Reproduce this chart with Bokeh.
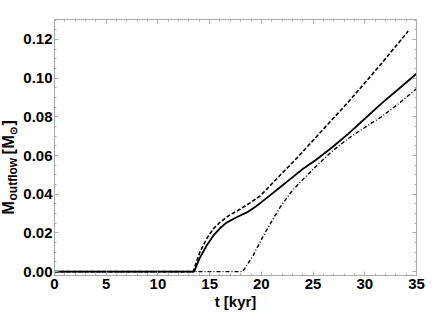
from bokeh.plotting import figure
from bokeh.models import LinearAxis, Range1d, Label, FixedTicker
from bokeh.layouts import row
from bokeh.embed import file_html
from bokeh.resources import INLINE
import math

# ---- data ----
t_solid = [0, 13.5, 14.0, 14.7, 15.35, 16.0, 16.6, 17.6, 18.6, 19.5, 20.5, 21.9,
           23.0, 24.0, 25.2, 26.8, 28.4, 30.0, 31.6, 33.3, 35.0]
m_solid = [0, 0, 0.0066, 0.0134, 0.0186, 0.0224, 0.0252, 0.0281, 0.0306, 0.0338,
           0.0380, 0.0440, 0.0487, 0.0530, 0.0574, 0.0640, 0.0712, 0.0790, 0.0868,
           0.0945, 0.1023]

t_dash = [0, 13.4, 14.05, 14.7, 15.35, 16.0, 16.95, 17.9, 18.9, 19.85, 20.5, 21.9,
          23.4, 25.2, 28.4, 31.45, 34.2]
m_dash = [0, 0, 0.0100, 0.0169, 0.0221, 0.0255, 0.0293, 0.0321, 0.0355, 0.0390,
          0.0425, 0.0503, 0.0585, 0.0690, 0.0876, 0.1065, 0.1243]

t_dd = [0, 18.2, 19.2, 20.2, 21.0, 21.9, 23.0, 23.9, 25.2, 26.8, 28.4, 30.0,
        31.6, 33.2, 35.0]
m_dd = [0, 0, 0.0083, 0.0186, 0.0260, 0.0340, 0.0420, 0.0470, 0.0540, 0.0620,
        0.0688, 0.0745, 0.0800, 0.0865, 0.0945]

x_ticks = [0, 5, 10, 15, 20, 25, 30, 35]
y_ticks = [0.0, 0.02, 0.04, 0.06, 0.08, 0.10, 0.12]
y_tick_labels = {0.0: "0.00", 0.02: "0.02", 0.04: "0.04", 0.06: "0.06",
                 0.08: "0.08", 0.10: "0.10", 0.12: "0.12"}
x_minor = [float(i) for i in range(0, 36)]
y_minor = [i * 0.005 for i in range(0, 27)]

FONT = "Liberation Sans"
AXC = "#aaaaaa"
Y0, Y1 = -0.002, 0.1303
H = 314
LW = 20  # width of the strip that carries the y-axis title

# ---------------- main plot ----------------
p = figure(frame_width=362, frame_height=256, width=436 - LW, height=H,
           x_range=Range1d(0, 35), y_range=Range1d(Y0, Y1),
           output_backend="svg", toolbar_location=None,
           min_border_left=53 - LW, min_border_top=19,
           min_border_right=436 - LW - (53 - LW) - 362, min_border_bottom=39)
p.background_fill_color = "white"
p.border_fill_color = "white"
p.outline_line_color = None
p.xgrid.visible = False
p.ygrid.visible = False

def style(ax, labels=True):
    ax.axis_line_color = AXC
    ax.axis_line_width = 1
    ax.major_tick_line_color = AXC
    ax.minor_tick_line_color = AXC
    ax.major_tick_in = 4
    ax.major_tick_out = 0
    ax.minor_tick_in = 2
    ax.minor_tick_out = 0
    if labels:
        ax.major_label_text_font = FONT
        ax.major_label_text_font_style = "bold"
        ax.major_label_text_font_size = "15px"
        ax.major_label_text_color = "black"
        ax.major_label_standoff = 2
    else:
        ax.major_label_standoff = 0

xb = p.xaxis[0]
xb.ticker = FixedTicker(ticks=x_ticks, minor_ticks=x_minor)
style(xb)
xb.major_label_standoff = 3
xb.axis_label = "t [kyr]"
xb.axis_label_text_font = FONT
xb.axis_label_text_font_style = "bold"
xb.axis_label_text_font_size = "15px"
xb.axis_label_text_color = "black"
xb.axis_label_standoff = 1

yl = p.yaxis[0]
yl.ticker = FixedTicker(ticks=y_ticks, minor_ticks=y_minor)
yl.major_label_overrides = y_tick_labels
style(yl)

xt = LinearAxis(ticker=FixedTicker(ticks=x_ticks, minor_ticks=x_minor))
style(xt, labels=False)
xt.major_label_overrides = {t: "" for t in x_ticks}
p.add_layout(xt, "above")
yr = LinearAxis(ticker=FixedTicker(ticks=y_ticks, minor_ticks=y_minor))
style(yr, labels=False)
yr.major_label_overrides = {t: "" for t in y_ticks}
p.add_layout(yr, "right")

p.line(t_solid, m_solid, line_color="black", line_width=1.8)
p.line(t_dash, m_dash, line_color="black", line_width=1.6, line_dash="4 2")
p.line(t_dd, m_dd, line_color="black", line_width=1.4, line_dash="4 2 1 2")

# ---------------- y-axis title strip ----------------
q = figure(frame_width=LW, frame_height=H, width=LW, height=H,
           x_range=Range1d(0, LW), y_range=Range1d(0, H),
           x_axis_location=None, y_axis_location=None,
           output_backend="svg", toolbar_location=None,
           min_border_left=0, min_border_right=0,
           min_border_top=0, min_border_bottom=0)
q.outline_line_color = None
q.xgrid.visible = False
q.ygrid.visible = False
q.background_fill_color = "white"
q.border_fill_color = "white"

# (text, font px, anchor x (bottom of text box), start y from top of page)
pieces = [("M", 16, 16.5, 195), ("outflow", 12, 19.5, 181), ("[", 16, 16.5, 135),
          ("M", 16, 16.5, 129), ("\u2299", 10, 18.5, 115), ("]", 16, 16.5, 106)]
for txt, fs, bx, sy in pieces:
    q.add_layout(Label(x=bx, y=H - sy, text=txt, angle=math.pi / 2,
                       text_font=FONT, text_font_style="bold",
                       text_font_size=f"{fs}px", text_color="black",
                       text_align="left", text_baseline="bottom"))

layout = row(q, p, spacing=0)
open("out.html", "w").write(file_html(layout, INLINE))
